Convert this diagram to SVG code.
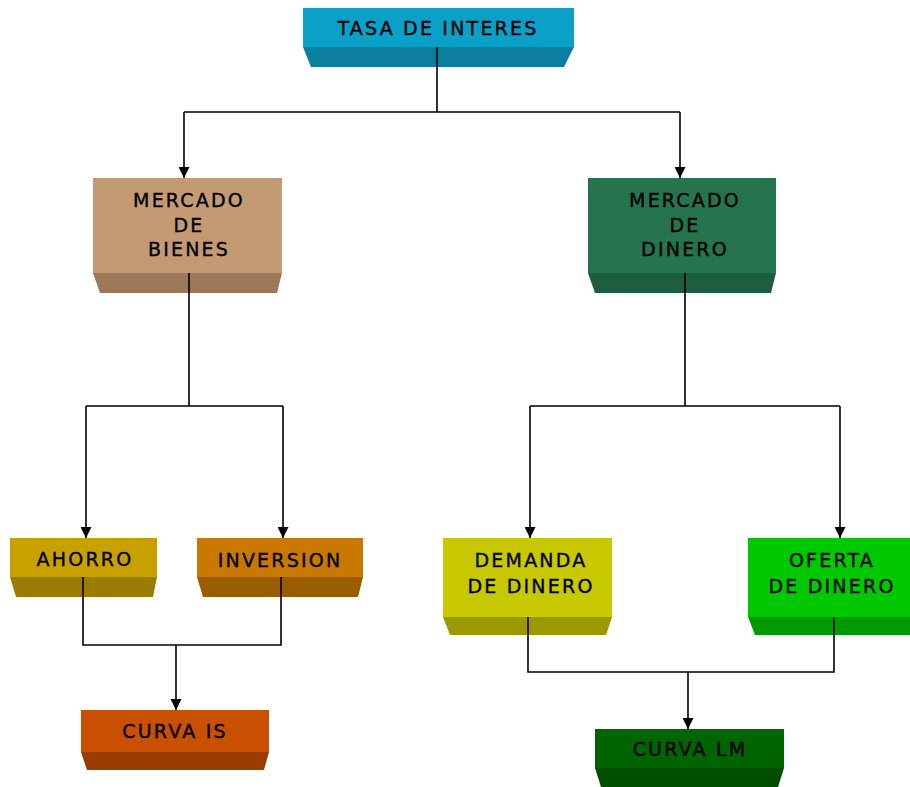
<svg xmlns="http://www.w3.org/2000/svg" width="910" height="787" viewBox="0 0 910 787">
<defs>
<style>
text{font-family:"DejaVu Sans","Liberation Sans",sans-serif;font-size:19px;letter-spacing:2.2px;fill:#000;stroke:#000;stroke-width:0.35;text-anchor:middle}
.c{fill:none;stroke:#000;stroke-width:1.6}
</style>
<marker id="ah" viewBox="0 0 10 10" refX="10" refY="5" markerWidth="12" markerHeight="11" markerUnits="userSpaceOnUse" orient="auto">
<path d="M0,0 L10,5 L0,10 Z" fill="#000"/>
</marker>
</defs>
<rect width="910" height="787" fill="#fff"/>
<g id="connectors">
<path class="c" d="M437,47 V112 M184,112 H680"/>
<path class="c" d="M184,112 V178" marker-end="url(#ah)"/>
<path class="c" d="M680,112 V178" marker-end="url(#ah)"/>
<path class="c" d="M189,273 V406 M86,406 H283"/>
<path class="c" d="M86,406 V538" marker-end="url(#ah)"/>
<path class="c" d="M283,406 V538" marker-end="url(#ah)"/>
<path class="c" d="M685,273 V406 M530,406 H840"/>
<path class="c" d="M530,406 V538" marker-end="url(#ah)"/>
<path class="c" d="M840,406 V538" marker-end="url(#ah)"/>
<path class="c" d="M83,577 V645 H281 V577"/>
<path class="c" d="M176,645 V710" marker-end="url(#ah)"/>
<path class="c" d="M528,617 V672 H834 V617"/>
<path class="c" d="M688,672 V729" marker-end="url(#ah)"/>
</g>
<g id="tasa">
<polygon points="303,47 574,47 564,67 311,67" fill="#0a7e9e"/>
<rect x="303" y="8" width="271" height="39" fill="#0aa0c8"/>
<line x1="437" y1="47" x2="437" y2="67" stroke="#000" stroke-width="1.6"/>
<text x="438" y="35">TASA DE INTERES</text>
</g>
<g id="bienes">
<polygon points="93,273 282,273 277,293 100,293" fill="#9a7859"/>
<rect x="93" y="178" width="189" height="95" fill="#c49a74"/>
<line x1="189" y1="273" x2="189" y2="293" stroke="#000" stroke-width="1.6"/>
<text x="189" y="207">MERCADO</text>
<text x="189" y="232">DE</text>
<text x="189" y="256">BIENES</text>
</g>
<g id="dinero">
<polygon points="588,273 776,273 771,293 595,293" fill="#1d5c3e"/>
<rect x="588" y="178" width="188" height="95" fill="#267350"/>
<line x1="685" y1="273" x2="685" y2="293" stroke="#000" stroke-width="1.6"/>
<text x="685" y="207">MERCADO</text>
<text x="685" y="232">DE</text>
<text x="685" y="256">DINERO</text>
</g>
<g id="ahorro">
<polygon points="10,577 157,577 153,597 16,597" fill="#9a7c00"/>
<rect x="10" y="538" width="147" height="39" fill="#c8a000"/>
<line x1="83" y1="577" x2="83" y2="597" stroke="#000" stroke-width="1.6"/>
<text x="85" y="566">AHORRO</text>
</g>
<g id="inversion">
<polygon points="197,577 363,577 358,597 203,597" fill="#9a5c00"/>
<rect x="197" y="538" width="166" height="39" fill="#c87800"/>
<line x1="281" y1="577" x2="281" y2="597" stroke="#000" stroke-width="1.6"/>
<text x="280" y="567">INVERSION</text>
</g>
<g id="demanda">
<polygon points="443,617 612,617 606,635 450,635" fill="#9a9a00"/>
<rect x="443" y="538" width="169" height="79" fill="#c8c800"/>
<line x1="528" y1="617" x2="528" y2="635" stroke="#000" stroke-width="1.6"/>
<text x="531" y="567">DEMANDA</text>
<text x="531" y="593">DE DINERO</text>
</g>
<g id="oferta">
<polygon points="748,617 910,617 910,635 755,635" fill="#009a00"/>
<rect x="748" y="538" width="162" height="79" fill="#00c800"/>
<line x1="834" y1="617" x2="834" y2="635" stroke="#000" stroke-width="1.6"/>
<text x="832" y="567">OFERTA</text>
<text x="832" y="593">DE DINERO</text>
</g>
<g id="curvais">
<polygon points="81,752 269,752 264,770 87,770" fill="#9a3c00"/>
<rect x="81" y="710" width="188" height="42" fill="#c85000"/>
<text x="175" y="738">CURVA IS</text>
</g>
<g id="curvalm">
<polygon points="595,768 784,768 778,787 601,787" fill="#004d00"/>
<rect x="595" y="729" width="189" height="39" fill="#006400"/>
<text x="690" y="756">CURVA LM</text>
</g>
</svg>
